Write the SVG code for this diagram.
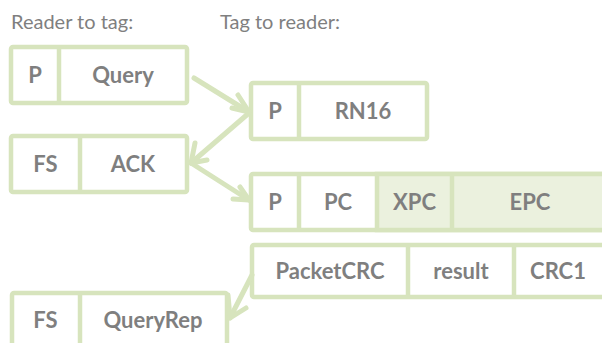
<svg xmlns="http://www.w3.org/2000/svg" width="602" height="343" viewBox="0 0 602 343">
<style>
.box{fill:#ffffff;stroke:#d7e4bd;stroke-width:4.5}
.sh{fill:#ebf1de;stroke:#d7e4bd;stroke-width:4.5}
.div{stroke:#d7e4bd;stroke-width:4.5}
.lbl{font-family:Lato,"Open Sans",sans-serif;font-weight:bold;font-size:22px;fill:#7f7f7f;text-anchor:middle}
.hdr{font-family:Lato,"Open Sans",sans-serif;font-size:20px;fill:#7f7f7f}
.arr{fill:none;stroke:#d7e4bd;stroke-width:5;stroke-linecap:round;stroke-linejoin:round}
</style>
<rect width="602" height="343" fill="#ffffff"/>
<text class="hdr" x="11" y="29">Reader to tag:</text>
<text class="hdr" x="220" y="29">Tag to reader:</text>
<g id="query">
<rect class="box" x="11" y="47" width="176" height="56" rx="2"/>
<line class="div" x1="59" y1="47" x2="59" y2="103"/>
<text class="lbl" x="35" y="83">P</text>
<text class="lbl" x="123" y="83">Query</text>
</g>
<g id="rn16">
<rect class="box" x="251" y="83" width="176" height="56" rx="2"/>
<line class="div" x1="299" y1="83" x2="299" y2="139"/>
<text class="lbl" x="275" y="119">P</text>
<text class="lbl" x="363" y="119">RN16</text>
</g>
<g id="ack">
<rect class="box" x="11" y="136" width="176" height="56" rx="2"/>
<line class="div" x1="80" y1="136" x2="80" y2="192"/>
<text class="lbl" x="45.5" y="172">FS</text>
<text class="lbl" x="133" y="172">ACK</text>
</g>
<g id="epc">
<rect class="box" x="251" y="174" width="360" height="56" rx="2"/>
<rect class="sh" x="377" y="174" width="234" height="56"/>
<line class="div" x1="299" y1="174" x2="299" y2="230"/>
<line class="div" x1="452" y1="174" x2="452" y2="230"/>
<text class="lbl" x="275" y="210">P</text>
<text class="lbl" x="338" y="210">PC</text>
<text class="lbl" x="414.5" y="210">XPC</text>
<text class="lbl" x="530" y="210">EPC</text>
</g>
<g id="packetcrc">
<rect class="box" x="252" y="245" width="360" height="52" rx="2"/>
<line class="div" x1="408" y1="245" x2="408" y2="297"/>
<line class="div" x1="514" y1="245" x2="514" y2="297"/>
<text class="lbl" x="330" y="279">PacketCRC</text>
<text class="lbl" x="461" y="279">result</text>
<text class="lbl" x="558" y="279">CRC1</text>
</g>
<g id="queryrep">
<rect class="box" x="12" y="293" width="215" height="70" rx="2"/>
<line class="div" x1="80" y1="293" x2="80" y2="343"/>
<text class="lbl" x="45.5" y="328">FS</text>
<text class="lbl" x="153" y="328">QueryRep</text>
</g>
<g id="connectors">
<polyline class="arr" points="194,78 249,112"/>
<polyline class="arr" points="238,95 249,112 232,108"/>
<polyline class="arr" points="249,113 191,163"/>
<polyline class="arr" points="195,143 191,163 207,160"/>
<polyline class="arr" points="191,163 249,200"/>
<polyline class="arr" points="240,187 249,200 233,199"/>
<polyline class="arr" points="252,275 230,318"/>
<polyline class="arr" points="228,295 230,318 246,308"/>
</g>
</svg>
